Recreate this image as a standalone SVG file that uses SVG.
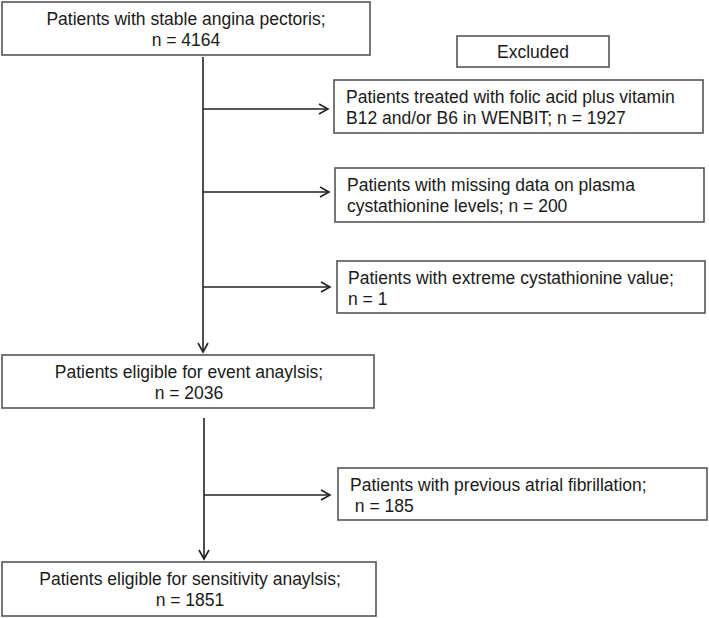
<svg xmlns="http://www.w3.org/2000/svg" width="709" height="618" viewBox="0 0 709 618">
<style>
.box{fill:#fff;stroke:#555;stroke-width:1.6}
.t{font-family:"Liberation Sans",Arial,sans-serif;font-size:17.5px;fill:#1a1a1a}
.c{text-anchor:middle}
.ln{fill:none;stroke:#222;stroke-width:1.6}
</style>
<defs>
<marker id="ah" markerWidth="12" markerHeight="12" refX="10" refY="6" orient="auto" markerUnits="userSpaceOnUse">
<path d="M1,1 L10,6 L1,11" fill="none" stroke="#222" stroke-width="1.6"/>
</marker>
</defs>
<rect width="709" height="618" fill="#fff"/>
<g id="start">
<rect class="box" x="2" y="2" width="368" height="53"/>
<text class="t c" x="186" y="25">Patients with stable angina pectoris;</text>
<text class="t c" x="186" y="46">n = 4164</text>
</g>
<g id="excluded">
<rect class="box" x="457" y="36" width="152" height="31"/>
<text class="t c" x="533" y="58">Excluded</text>
</g>
<g id="ex1">
<rect class="box" x="334" y="80" width="369" height="53"/>
<text class="t" x="346" y="103">Patients treated with folic acid plus vitamin</text>
<text class="t" x="346" y="124">B12 and/or B6 in WENBIT; n = 1927</text>
</g>
<g id="ex2">
<rect class="box" x="335" y="168" width="369" height="54"/>
<text class="t" x="347" y="191">Patients with missing data on plasma</text>
<text class="t" x="347" y="212">cystathionine levels; n = 200</text>
</g>
<g id="ex3">
<rect class="box" x="337" y="261" width="368" height="52"/>
<text class="t" x="348" y="284">Patients with extreme cystathionine value;</text>
<text class="t" x="348" y="305"> n = 1</text>
</g>
<g id="event">
<rect class="box" x="2" y="355" width="372" height="53"/>
<text class="t c" x="189" y="378">Patients eligible for event anaylsis;</text>
<text class="t c" x="189" y="399">n = 2036</text>
</g>
<g id="ex4">
<rect class="box" x="338" y="468" width="369" height="52"/>
<text class="t" x="350" y="491">Patients with previous atrial fibrillation;</text>
<text class="t" x="350" y="512" xml:space="preserve"> n = 185</text>
</g>
<g id="sensitivity">
<rect class="box" x="2" y="562" width="374" height="54"/>
<text class="t c" x="190" y="585">Patients eligible for sensitivity anaylsis;</text>
<text class="t c" x="190" y="606">n = 1851</text>
</g>
<g id="connectors">
<path class="ln" d="M203,57 V352" marker-end="url(#ah)"/>
<path class="ln" d="M203,109 H328" marker-end="url(#ah)"/>
<path class="ln" d="M203,192 H329" marker-end="url(#ah)"/>
<path class="ln" d="M203,287 H330" marker-end="url(#ah)"/>
<path class="ln" d="M204,418 V559" marker-end="url(#ah)"/>
<path class="ln" d="M204,495 H330" marker-end="url(#ah)"/>
</g>
</svg>
